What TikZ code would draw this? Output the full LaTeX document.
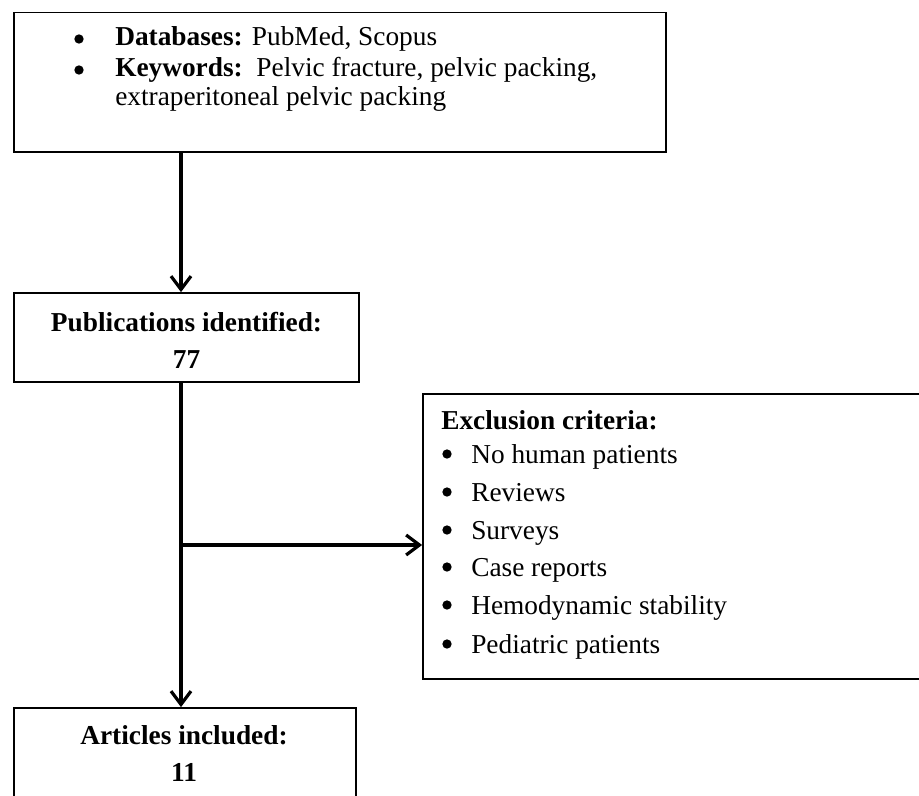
\documentclass[tikz,border=0pt]{standalone}
\usepackage{fontspec}
\setmainfont{Liberation Serif}
\usetikzlibrary{arrows.meta}
\tikzset{
  x=0.75pt, y=-0.75pt,
  box/.style={draw=black, line width=1.3pt, rectangle, inner sep=0pt},
  txt/.style={inner sep=0pt, font=\fontsize{20.5pt}{25pt}\selectfont},
  bul/.style={circle, fill=black, inner sep=0pt, minimum size=7pt},
  arr/.style={line width=2.6pt, -{Straight Barb[length=10pt,width=15pt,line width=2.4pt]}},
}
\begin{document}
\begin{tikzpicture}
\useasboundingbox (0,0) rectangle (919,795);
% boxes
\node[box, minimum width=489pt, minimum height=104.6pt] (top) at (340,82.25) {};
\node[box, minimum width=258.75pt, minimum height=66.75pt] (pub) at (186.5,337.5) {};
\node[box, minimum width=373.5pt, minimum height=213.75pt] (excl) at (672,536.5) {};
\node[box, minimum width=256.5pt, minimum height=91.5pt] (art) at (185,769) {};
% top box text
\node[bul] (b1) at (79,39) {};
\node[txt, anchor=base west] (t1) at (115,46) {\textbf{Databases:} PubMed, Scopus};
\node[bul] (b2) at (79,70) {};
\node[txt, anchor=base west] (t2) at (115,77) {\textbf{Keywords:}\ \ Pelvic fracture, pelvic packing,};
\node[txt, anchor=base west] (t3) at (115,106) {extraperitoneal pelvic packing};
% publications
\node[txt, anchor=base] (p1) at (186.5,331) {\textbf{Publications identified:}};
\node[txt, anchor=base] (p2) at (186.5,368) {\textbf{77}};
% exclusion
\node[txt, anchor=base west] (e0) at (441,429) {\textbf{Exclusion criteria:}};
\foreach \y/\t [count=\i] in {463/No human patients, 501/Reviews, 539/Surveys, 576/Case reports, 614/Hemodynamic stability, 653/Pediatric patients}{
  \node[bul] (eb\i) at (447,\y-9) {};
  \node[txt, anchor=base west] (e\i) at (471,\y) {\t};
}
% articles
\node[txt, anchor=base] (a1) at (184,744) {\textbf{Articles included:}};
\node[txt, anchor=base] (a2) at (184,781) {\textbf{11}};
% connectors
\coordinate (ax) at (181,0);
\coordinate (j) at (181,545);
\draw[arr] (ax |- top.south) -- (ax |- pub.north);
\draw[arr] (ax |- pub.south) -- (ax |- art.north);
\draw[arr] (j) -- (j -| excl.west);
\end{tikzpicture}
\end{document}
